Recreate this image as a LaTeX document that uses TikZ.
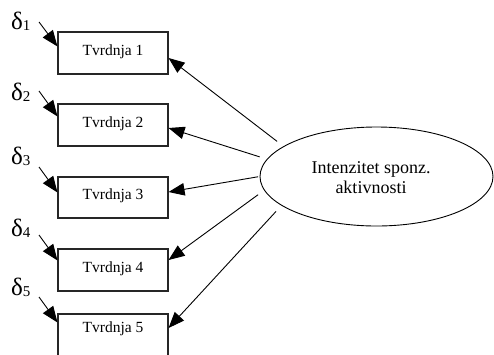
\documentclass[tikz,border=0pt]{standalone}
\usepackage{fontspec}
\setmainfont{Liberation Serif}
\usetikzlibrary{arrows.meta,shapes.geometric}
\begin{document}
\begin{tikzpicture}[x=1pt,y=-1pt,
 box/.style={draw=black!85, line width=1.1pt, rectangle, minimum width=110pt, minimum height=42pt, inner sep=0pt, text height=10.3pt, text depth=6pt, font=\fontsize{15.5}{18}\selectfont},
 dlab/.style={anchor=base west, inner sep=0pt, font=\fontsize{25}{28}\selectfont},
 conn/.style={line width=0.9pt, -{Triangle[length=16pt,width=12.5pt]}},
 latent/.style={draw, ellipse, line width=0.9pt, minimum width=233pt, minimum height=99pt, inner sep=0pt},
 ltext/.style={inner sep=0pt, align=center, font=\fontsize{18}{20}\selectfont},
]
\useasboundingbox (0,0) rectangle (494,354);
\clip (0,0) rectangle (494,354);
% observed variables
\node[box] (B1) at (113,53) {Tvrdnja 1};
\node[box] (B2) at (113,125) {Tvrdnja 2};
\node[box, minimum height=41pt] (B3) at (113,197.5) {Tvrdnja 3};
\node[box] (B4) at (113,270) {Tvrdnja 4};
\node[box, minimum height=46pt, text depth=20pt] (B5) at (113,337) {Tvrdnja 5};
% latent variable
\node[latent] (E) at (376.5,176.5) {};
\node[ltext] (Et) at (371,178) {Intenzitet sponz.\\aktivnosti};
% error labels
\node[dlab] (d1) at (11,29) {δ\raisebox{-1.5pt}{\fontsize{15}{15}\selectfont 1}};
\node[dlab] (d2) at (11,100) {δ\raisebox{-1.5pt}{\fontsize{15}{15}\selectfont 2}};
\node[dlab] (d3) at (11,164) {δ\raisebox{-1.5pt}{\fontsize{15}{15}\selectfont 3}};
\node[dlab] (d4) at (11,236) {δ\raisebox{-1.5pt}{\fontsize{15}{15}\selectfont 4}};
\node[dlab] (d5) at (11,295) {δ\raisebox{-1.5pt}{\fontsize{15}{15}\selectfont 5}};
\coordinate (s1) at (39,22);
\coordinate (s2) at (39,91);
\coordinate (s3) at (39,167);
\coordinate (s4) at (39,235);
\coordinate (s5) at (39,297);
\draw[conn] (s1) -- ([yshift=-15pt]B1.north west);
\draw[conn] (s2) -- ([yshift=-13pt]B2.north west);
\draw[conn] (s3) -- ([yshift=-16pt]B3.north west);
\draw[conn] (s4) -- ([yshift=-12pt]B4.north west);
\draw[conn] (s5) -- ([yshift=-9pt]B5.north west);
% loadings
\draw[conn, shorten <=8pt] (E.162.4) -- ([yshift=-5pt]B1.east);
\draw[conn, shorten <=7.5pt] (E.171.7) -- ([yshift=-3pt]B2.east);
\draw[conn, shorten <=1.5pt] (E.180) -- ([yshift=5.5pt]B3.east);
\draw[conn, shorten <=7.5pt] (E.187.3) -- ([yshift=10pt]B4.east);
\draw[conn, shorten <=8pt] (E.197.7) -- ([yshift=9pt]B5.east);
\end{tikzpicture}
\end{document}
